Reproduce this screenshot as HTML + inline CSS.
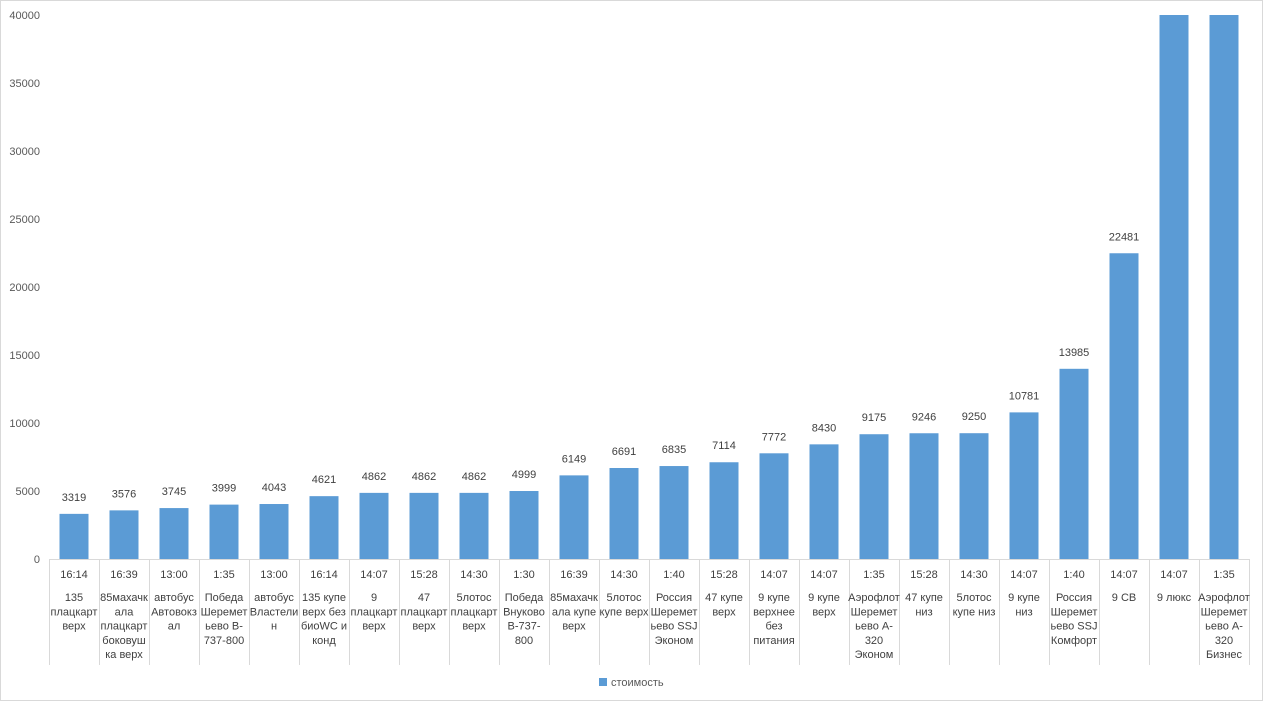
<!DOCTYPE html>
<html><head><meta charset="utf-8"><style>
body{margin:0;background:#fff}
svg{display:block;font-family:"Liberation Sans","DejaVu Sans",sans-serif}
</style></head><body>
<svg width="1263" height="702" viewBox="0 0 1263 702">
<rect x="0.5" y="0.5" width="1262" height="700" fill="#fff" stroke="#d9d9d9"/>
<g font-size="11" fill="#595959" text-anchor="end">
<text x="40" y="563">0</text><text x="40" y="495">5000</text><text x="40" y="427">10000</text><text x="40" y="359">15000</text><text x="40" y="291">20000</text><text x="40" y="223">25000</text><text x="40" y="155">30000</text><text x="40" y="87">35000</text><text x="40" y="19">40000</text>
</g>
<g id="bars"></g>
<line x1="49" y1="559.5" x2="1249" y2="559.5" stroke="#d9d9d9"/>
<g id="cats" font-size="11" fill="#404040" text-anchor="middle"></g>
<rect x="599" y="678" width="8" height="8" fill="#5b9bd5"/>
<text x="611" y="686" font-size="11" fill="#595959">стоимость</text>
</svg>
<script>
var d=[["16:14",["135","плацкарт","верх"],3319],["16:39",["85махачк","ала","плацкарт","боковуш","ка верх"],3576],["13:00",["автобус","Автовокз","ал"],3745],["1:35",["Победа","Шеремет","ьево B-","737-800"],3999],["13:00",["автобус","Властели","н"],4043],["16:14",["135 купе","верх без","биоWC и","конд"],4621],["14:07",["9","плацкарт","верх"],4862],["15:28",["47","плацкарт","верх"],4862],["14:30",["5лотос","плацкарт","верх"],4862],["1:30",["Победа","Внуково","B-737-","800"],4999],["16:39",["85махачк","ала купе","верх"],6149],["14:30",["5лотос","купе верх"],6691],["1:40",["Россия","Шеремет","ьево SSJ","Эконом"],6835],["15:28",["47 купе","верх"],7114],["14:07",["9 купе","верхнее","без","питания"],7772],["14:07",["9 купе","верх"],8430],["1:35",["Аэрофлот","Шеремет","ьево A-","320","Эконом"],9175],["15:28",["47 купе","низ"],9246],["14:30",["5лотос","купе низ"],9250],["14:07",["9 купе","низ"],10781],["1:40",["Россия","Шеремет","ьево SSJ","Комфорт"],13985],["14:07",["9 СВ"],22481],["14:07",["9 люкс"],60000],["1:35",["Аэрофлот","Шеремет","ьево A-","320","Бизнес"],60000]];
var ns="http://www.w3.org/2000/svg",b=document.getElementById("bars"),c=document.getElementById("cats");
function el(p,t,a,txt){var e=document.createElementNS(ns,t);for(var k in a)e.setAttribute(k,a[k]);if(txt!=null)e.textContent=txt;p.appendChild(e);return e;}
for(var i=0;i<=24;i++){el(c,"line",{x1:49.5+i*50,y1:559,x2:49.5+i*50,y2:665,stroke:"#d9d9d9"});}
d.forEach(function(r,i){var cx=74+i*50,v=Math.min(r[2],40000),h=v*0.0136;
el(b,"rect",{x:cx-14.5,y:559-h,width:29,height:h,fill:"#5b9bd5"});
if(r[2]<40000)el(b,"text",{x:cx,y:559-h-13,"font-size":11,fill:"#404040","text-anchor":"middle"},String(r[2]));
el(c,"text",{x:cx,y:578},r[0]);
r[1].forEach(function(s,j){el(c,"text",{x:cx,y:601+j*14.3},s);});});
</script>
</body></html>
